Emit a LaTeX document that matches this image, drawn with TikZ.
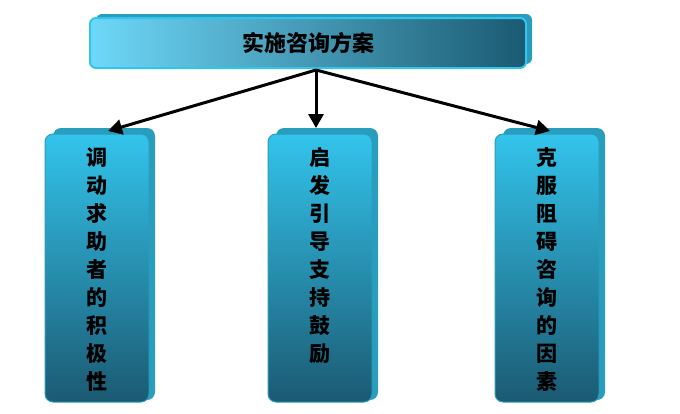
\documentclass[tikz,border=0pt]{standalone}
\usepackage{fontspec}
\setmainfont{Noto Sans CJK SC}
\usetikzlibrary{arrows.meta}
\definecolor{lightc}{HTML}{6ED8F8}
\definecolor{midc}{HTML}{33C4EC}
\definecolor{darkc}{HTML}{1B5A72}
\tikzset{
  topbox/.style={rounded corners=6pt, left color=lightc, right color=darkc, draw=midc, line width=2pt},
  sidebox/.style={rounded corners=8pt, top color=midc, bottom color=darkc, draw=midc!80!black, line width=1pt},
  lbl/.style={font=\bfseries\fontsize{21}{28}\selectfont, align=center},
  link/.style={line width=3pt, -{Triangle[length=14pt,width=15pt]}}
}
\begin{document}
\begin{tikzpicture}[x=1pt,y=-1pt]
\useasboundingbox (0,0) rectangle (680,413);
\fill[midc!80!black, rounded corners=6pt] (96,14) rectangle (532,64);
\draw[topbox] (90,18) rectangle (526,68);
\node[lbl, font=\bfseries\fontsize{22}{24}\selectfont] (top) at (308,43) {实施咨询方案};
\coordinate (src) at (316,70);

\foreach \n/\x in {a/45, b/268, c/495}{
  \fill[midc!80!black, rounded corners=8pt] (\x+8,128) rectangle (\x+110,400);
  \draw[sidebox] (\x,134) rectangle (\x+104,402);
  \coordinate (\n) at (\x+52,134);
}
\node[lbl, anchor=north] (ta) at ([yshift=-10]a) {调\\动\\求\\助\\者\\的\\积\\极\\性};
\node[lbl, anchor=north] (tb) at ([yshift=-10]b) {启\\发\\引\\导\\支\\持\\鼓\\励};
\node[lbl, anchor=north] (tc) at ([yshift=-10]c) {克\\服\\阻\\碍\\咨\\询\\的\\因\\素};

\draw[link] (src) -- (108,131);
\draw[link] (src) -- (316,128);
\draw[link] (src) -- (550,131);
\end{tikzpicture}
\end{document}
